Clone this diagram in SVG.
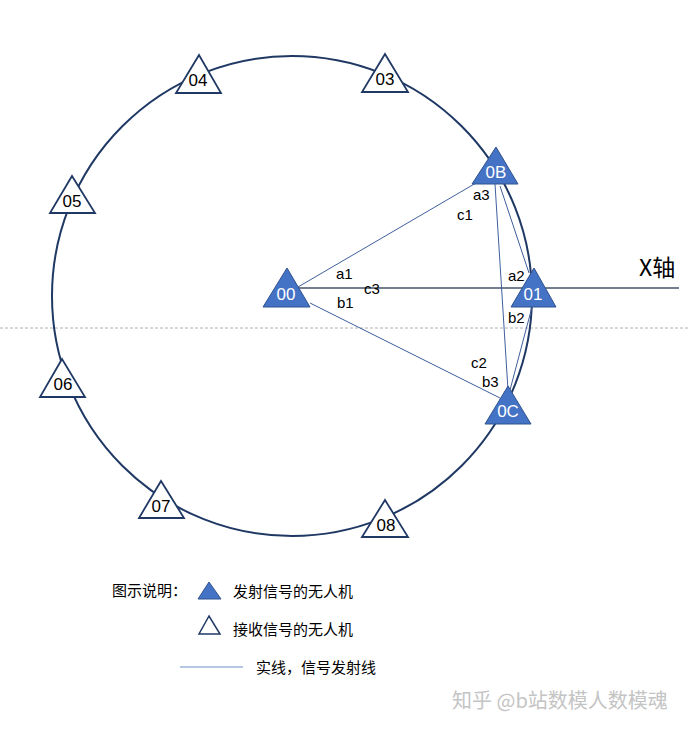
<svg xmlns="http://www.w3.org/2000/svg" width="688" height="729" viewBox="0 0 688 729">
<style>
.ring{fill:none;stroke:#1F3864;stroke-width:2}
.sig{stroke:#3F5F9E;stroke-width:1;fill:none}
.tx{stroke:#44546A;stroke-width:1.3;fill:none}
.tf{fill:#4472C4;stroke:#2F528F;stroke-width:1}
.to{fill:#fff;stroke:#203864;stroke-width:1.8}
.lw{font-family:"Liberation Sans",Arial,sans-serif;font-size:17px;fill:#fff;text-anchor:middle}
.lb{font-family:"Liberation Sans",Arial,sans-serif;font-size:17px;fill:#000;text-anchor:middle}
.sm{font-family:"Liberation Sans",Arial,sans-serif;font-size:15px;fill:#000}
.cn{font-family:"Noto Sans CJK SC","Noto Sans",sans-serif;font-size:15px;fill:#000}
</style>
<rect width="688" height="729" fill="#fff"/>
<line x1="0" y1="328" x2="688" y2="328" stroke="#b0b0b0" stroke-width="1" stroke-dasharray="3 2"/>
<circle class="ring" cx="292" cy="296" r="240"/>
<g id="connectors">
<line class="sig" x1="298" y1="287" x2="476" y2="183"/>
<line class="tx" x1="298" y1="288" x2="679" y2="288"/>
<line class="sig" x1="310" y1="303" x2="500" y2="398"/>
<line class="sig" x1="500" y1="186" x2="529" y2="273"/>
<line class="sig" x1="495" y1="184" x2="508" y2="390"/>
<line class="sig" x1="532" y1="307" x2="510" y2="390"/>
</g>
<g id="n00"><polygon class="tf" points="287,268 263,307 310,307"/><text class="lw" x="286" y="300">00</text></g>
<g id="n0B"><polygon class="tf" points="496,147 472,184 518,184"/><text class="lw" x="496" y="178">0B</text></g>
<g id="n01"><polygon class="tf" points="534,268 511,307 556,307"/><text class="lw" x="533" y="300">01</text></g>
<g id="n0C"><polygon class="tf" points="508,386 485,424 531,424"/><text class="lw" x="508" y="417">0C</text></g>
<g id="n03"><polygon class="to" points="385,54 362,92 408,92"/><text class="lb" x="385" y="85">03</text></g>
<g id="n04"><polygon class="to" points="199,55 176,93 221,93"/><text class="lb" x="198" y="86">04</text></g>
<g id="n05"><polygon class="to" points="72,176 50,213 95,213"/><text class="lb" x="72" y="207">05</text></g>
<g id="n06"><polygon class="to" points="62,359 40,397 85,397"/><text class="lb" x="63" y="390">06</text></g>
<g id="n07"><polygon class="to" points="161,481 139,518 184,518"/><text class="lb" x="161" y="512">07</text></g>
<g id="n08"><polygon class="to" points="385,500 362,537 408,537"/><text class="lb" x="386" y="531">08</text></g>
<g id="labels">
<text class="sm" x="336" y="279">a1</text>
<text class="sm" x="364" y="294">c3</text>
<text class="sm" x="337" y="308">b1</text>
<text class="sm" x="473" y="200">a3</text>
<text class="sm" x="457" y="220">c1</text>
<text class="sm" x="508" y="281">a2</text>
<text class="sm" x="508" y="323">b2</text>
<text class="sm" x="471" y="368">c2</text>
<text class="sm" x="482" y="387">b3</text>
<text font-family="'Noto Sans CJK SC','Noto Sans',sans-serif" font-size="23" x="639" y="276" fill="#000">X轴</text>
</g>
<g id="legend">
<text class="cn" x="112" y="596">图示说明：</text>
<polygon class="tf" points="209,582 198,599 221,599"/>
<text class="cn" x="233" y="597">发射信号的无人机</text>
<polygon points="209,616 199,634 220,634" fill="#fff" stroke="#203864" stroke-width="1.5"/>
<text class="cn" x="233" y="635">接收信号的无人机</text>
<line x1="180" y1="667" x2="243" y2="667" stroke="#6F8FC8" stroke-width="1.2"/>
<text class="cn" x="256" y="673">实线，信号发射线</text>
</g>
<text font-family="'Noto Sans CJK SC','Noto Sans',sans-serif" font-size="20" x="452" y="708" fill="#c4c4c4">知乎 @b站数模人数模魂</text>
</svg>
